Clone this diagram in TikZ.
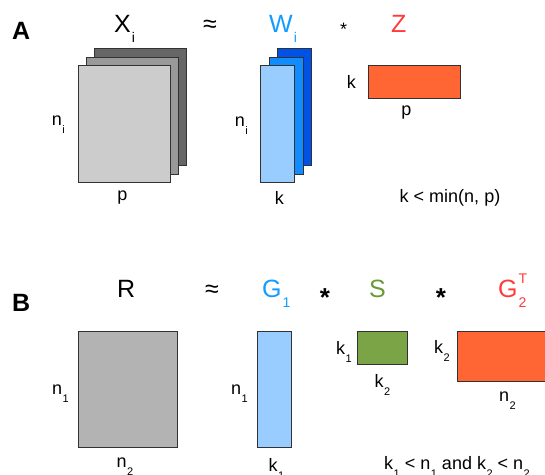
\documentclass[tikz,border=0pt]{standalone}
\usepackage{fontspec}
\setmainfont{Liberation Sans}
\usetikzlibrary{positioning}
\definecolor{mylightgray}{RGB}{204,204,204}
\definecolor{mymidgray}{RGB}{153,153,153}
\definecolor{mydarkgray}{RGB}{102,102,102}
\definecolor{myrgray}{RGB}{179,179,179}
\definecolor{mylightblue}{RGB}{153,204,255}
\definecolor{mymidblue}{RGB}{17,140,255}
\definecolor{mydarkblue}{RGB}{0,82,230}
\definecolor{myorange}{RGB}{255,102,51}
\definecolor{mygreen}{RGB}{122,164,69}
\definecolor{myblue}{RGB}{20,155,255}
\definecolor{myred}{RGB}{255,60,60}
\definecolor{myolive}{RGB}{105,155,50}
\definecolor{myedge}{RGB}{50,50,50}

\newcommand{\lsub}[1]{\kern0.5pt\raisebox{-8pt}[0pt][0pt]{\fontsize{11}{11}\selectfont #1}}
\newcommand{\tsub}[1]{\kern1pt\raisebox{-10pt}[0pt][0pt]{\fontsize{14}{14}\selectfont #1}}
\newcommand{\tsubsup}[2]{\kern1pt\rlap{\raisebox{14pt}[0pt][0pt]{\fontsize{14}{14}\selectfont #2}}\raisebox{-10pt}[0pt][0pt]{\fontsize{14}{14}\selectfont #1}}

\tikzset{
  mat/.style={draw=myedge, line width=0.9pt, inner sep=0, anchor=north west},
  dims/.style 2 args={minimum width=#1, minimum height=#2},
  lbl/.style={inner sep=0, font=\fontsize{18}{18}\selectfont},
  ttl/.style={inner sep=0, anchor=base west, font=\fontsize{25}{25}\selectfont},
  panel/.style={inner sep=0, anchor=base west, font=\fontsize{25}{25}\selectfont\bfseries},
}

\begin{document}
\begin{tikzpicture}[x=1pt, y=-1pt]
  \useasboundingbox (0,0) rectangle (545,474);
  \clip (0,0) rectangle (545,474);

  % Panel A
  \node[panel] (pa) at (12,39) {A};
  \node[ttl] (tx) at (114,32) {X\tsub{i}};
  \node[ttl, anchor=base] (approxa) at (210,32) {≈};
  \node[ttl, myblue] (tw) at (269,32) {W\tsub{i}};
  \node[lbl, anchor=base] (stara) at (343.5,35.5) {*};
  \node[ttl, myred] (tz) at (391,32) {Z};

  % X stack
  \node[mat, fill=mydarkgray, dims={92pt}{117pt}] (xback) at (94,48) {};
  \node[mat, fill=mymidgray, dims={92pt}{117pt}] (xmid) at (86,57) {};
  \node[mat, fill=mylightgray, dims={92pt}{117pt}] (xfront) at (78,65) {};
  \node[lbl, left=13pt of xfront, yshift=3pt] (nia) {n\lsub{i}};
  \node[lbl, below=8pt of xfront, xshift=-2pt] (pa1) {p};

  % W stack
  \node[mat, fill=mydarkblue, dims={34pt}{117pt}] (wback) at (277,48) {};
  \node[mat, fill=mymidblue, dims={34pt}{117pt}] (wmid) at (269,57) {};
  \node[mat, fill=mylightblue, dims={34pt}{117pt}] (wfront) at (260,65) {};
  \node[lbl, left=12pt of wfront, yshift=2pt] (nib) {n\lsub{i}};
  \node[lbl, below=8pt of wfront, xshift=2pt] (ka) {k};

  % Z
  \node[mat, fill=myorange, dims={92pt}{33pt}] (zmat) at (368,65) {};
  \node[lbl, left=12pt of zmat] (kz) {k};
  \node[lbl, below=7pt of zmat, xshift=-8pt] (pz) {p};
  \node[lbl] (conda) at (450,198) {k < min(n, p)};

  % Panel B
  \node[panel] (pb) at (12,311) {B};
  \node[ttl] (tr) at (117,297) {R};
  \node[ttl, anchor=base] (approxb) at (212,297) {≈};
  \node[ttl, myblue] (tg1) at (262,297) {G\tsub{1}};
  \node[ttl, anchor=base, font=\fontsize{26}{26}\selectfont\bfseries] (starb) at (325,306) {*};
  \node[ttl, myolive] (ts) at (369,297) {S};
  \node[ttl, anchor=base, font=\fontsize{26}{26}\selectfont\bfseries] (starc) at (441,306) {*};
  \node[ttl, myred] (tg2) at (498,297) {G\tsubsup{2}{T}};

  \node[mat, fill=myrgray, dims={99pt}{116pt}] (rmat) at (78,331) {};
  \node[lbl, left=9pt of rmat] (none) {n\lsub{1}};
  \node[lbl, below=10pt of rmat, xshift=-3pt] (ntwo) {n\lsub{2}};

  \node[mat, fill=mylightblue, dims={34pt}{116pt}] (gone) at (257,331) {};
  \node[lbl, left=9pt of gone] (noneb) {n\lsub{1}};
  \node[lbl, below=10pt of gone, xshift=2pt] (kone) {k\lsub{1}};

  \node[mat, fill=mygreen, dims={50pt}{33pt}] (smat) at (357,331) {};
  \node[lbl, left=5pt of smat] (kones) {k\lsub{1}};
  \node[lbl, below=9pt of smat] (ktwos) {k\lsub{2}};

  \node[mat, fill=myorange, dims={100pt}{50pt}] (gtwo) at (457,331) {};
  \node[lbl, anchor=north east] (ktwog) at ([xshift=-7pt, yshift=-9pt]gtwo.north west) {k\lsub{2}};
  \node[lbl, below=10pt of gtwo] (ntwog) {n\lsub{2}};
  \node[lbl] (condb) at (457,463) {k\lsub{1} < n\lsub{1} and k\lsub{2} < n\lsub{2}};
\end{tikzpicture}
\end{document}
